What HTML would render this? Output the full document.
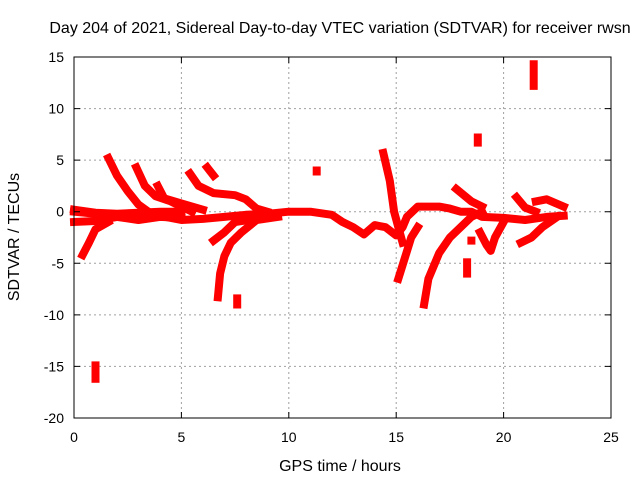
<!DOCTYPE html>
<html><head><meta charset="utf-8"><style>
body{margin:0;background:#fff}
text{font-family:"Liberation Sans",sans-serif;font-size:14px;fill:#000}
.big{font-size:16px}
</style></head><body>
<svg id="chart" width="640" height="480" xmlns="http://www.w3.org/2000/svg">
<text class="big" x="340" y="33" text-anchor="middle">Day 204 of 2021, Sidereal Day-to-day VTEC variation (SDTVAR) for receiver rwsn</text>
<text class="big" x="340" y="471" text-anchor="middle">GPS time / hours</text>
<text class="big" transform="translate(19,237) rotate(-90)" text-anchor="middle">SDTVAR / TECUs</text>
<g id="grid"></g>
<g id="marks"></g>
<rect x="74" y="57" width="537" height="361" fill="none" stroke="#000" stroke-width="1"/>
<g id="ticks"></g>
</svg>
<script>
const xTicks=[0,5,10,15,20,25];
const yTicks=[15,10,5,0,-5,-10,-15,-20];
const track1=[[0,0],[1,-0.2],[2,-0.3],[3,-0.5],[4,-0.4],[5,-0.8],[6,-0.7],[7,-0.5],[8,-0.3],[9,-0.2],[10,0],[11,0],[12,-0.3],[12.5,-1],[13,-1.5],[13.5,-2.2],[14,-1.3],[14.5,-1.5],[15,-2.3],[15.3,-1.5],[15.5,-0.5],[16,0.5],[17,0.5],[17.5,0.3],[18,0],[18.5,0],[19,-0.5],[20,-0.6],[21,-0.8],[22,-0.5],[22.8,-0.4]];
const track2=[[0,-1],[1,-0.9],[2,-0.5],[3,-0.8],[4,-0.5],[5,-0.6]];
const track3=[[0,0.2],[1,-0.1],[2,-0.2],[3,-0.1],[4,0],[5,0]];
const track4=[[1.6,5.2],[2,3.5],[2.5,2],[3,0.7],[3.6,-0.2]];
const track5=[[2.9,4.3],[3.3,2.5],[3.8,1.5],[4.5,1],[5,0.5],[5.5,0]];
const track6=[[3.9,2.5],[4.2,1.3],[5,0.8],[6,0.2]];
const track7=[[5.4,3.7],[5.8,2.5],[6.5,1.8],[7.5,1.6],[8,1.2],[8.5,0.3],[9,0]];
const track8=[[6.2,4.3],[6.5,3.5]];
const track9=[[0.4,-4.2],[0.7,-3],[1,-1.7],[1.6,-1]];
const track10=[[6.7,-8.3],[6.8,-6],[7,-4.3],[7.3,-3],[7.8,-2],[8.5,-0.8],[9.5,-0.5]];
const track11=[[6.5,-2.8],[7,-2],[7.5,-1],[8.5,-0.7]];
const track12=[[7.6,-8.4],[7.6,-9]];
const track13=[[1,-14.9],[1,-16.2]];
const track14=[[11.3,4],[11.3,3.9]];
const track15=[[14.4,5.7],[14.7,3],[14.9,0],[15.1,-1.5],[15.3,-3]];
const track16=[[15.1,-6.5],[15.4,-4.5],[15.7,-2.5],[16,-1.5]];
const track17=[[16.3,-9],[16.5,-6.5],[17,-4],[17.5,-2.5],[18,-1.5],[18.5,-0.5],[19,0]];
const track18=[[17.8,2.2],[18.5,1],[19,0.5]];
const track19=[[18.3,-4.9],[18.3,-6]];
const track20=[[18.8,7.2],[18.8,6.7]];
const track21=[[18.9,-2],[19.2,-3.2],[19.4,-3.8],[19.6,-2.5],[20,-1]];
const track22=[[20.6,1.4],[21,0.4],[21.5,0]];
const track23=[[20.8,-3],[21.3,-2.5],[21.8,-1.5],[22.5,-0.5]];
const track24=[[21.4,14.3],[21.4,12.2]];
const track25=[[21.5,1],[22,1.2],[22.8,0.5]];
const track26=[[18.5,-2.8],[18.5,-2.8]];
const tracks=[track1,track2,track3,track4,track5,track6,track7,track8,track9,track10,track11,track12,track13,track14,track15,track16,track17,track18,track19,track20,track21,track22,track23,track24,track25,track26];
const NS="http://www.w3.org/2000/svg";
const X=t=>74+t*537/25, Y=v=>57+(15-v)*361/35;
const grid=document.getElementById('grid'),ticks=document.getElementById('ticks'),marks=document.getElementById('marks');
function mk(tag,attrs,parent){const e=document.createElementNS(NS,tag);for(const k in attrs)e.setAttribute(k,attrs[k]);parent.appendChild(e);return e;}
xTicks.forEach(t=>{
  const x=X(t);
  if(t>0&&t<25){const g=mk('line',{x1:x,x2:x,y1:57,y2:418,stroke:'#a0a0a0','stroke-dasharray':'2,3'},grid);
  
  }
  const tk=mk('path',{d:`M${x},418v-6M${x},57v6`,stroke:'#000'},ticks);
  
  
  const l=mk('text',{x:x,y:442,'text-anchor':'middle'},ticks);l.textContent=t;
  
  
});
yTicks.forEach(v=>{
  const y=Y(v);
  if(v<15&&v>-20){const g=mk('line',{x1:74,x2:611,y1:y,y2:y,stroke:'#a0a0a0','stroke-dasharray':'2,3'},grid);
  
  }
  const tk=mk('path',{d:`M74,${y}h6M611,${y}h-6`,stroke:'#000'},ticks);
  
  
  const l=mk('text',{x:64,y:y+5,'text-anchor':'end'},ticks);l.textContent=v;
  
  
});
tracks.forEach((tr,i)=>{
  const d=tr.map((p,j)=>(j?'L':'M')+X(p[0]).toFixed(1)+','+Y(p[1]).toFixed(1)).join('');
  const p=mk('path',{d:d,fill:'none',stroke:'#f00','stroke-width':8,'stroke-linejoin':'round','stroke-linecap':'square'},marks);
  
  
});
</script>
</body></html>
